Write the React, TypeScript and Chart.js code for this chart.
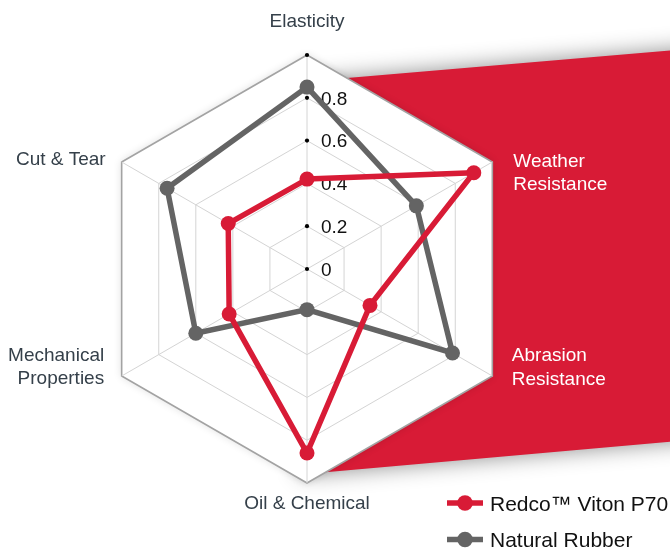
import React, { useEffect, useRef } from 'react';
import { Chart, registerables } from 'chart.js';

Chart.register(...registerables);

// ---- data ----
const categories = ['Elasticity', 'Weather Resistance', 'Abrasion Resistance', 'Oil & Chemical', 'Mechanical Properties', 'Cut & Tear'];
const categoryLines = [['Elasticity'], ['Weather', 'Resistance'], ['Abrasion', 'Resistance'], ['Oil & Chemical'], ['Mechanical', 'Properties'], ['Cut & Tear']];
const seriesNames = ['Redco™ Viton P70', 'Natural Rubber'];
const redcoValues = [0.42, 0.9, 0.34, 0.86, 0.42, 0.425];
const rubberValues = [0.85, 0.59, 0.785, 0.19, 0.6, 0.755];
const tickValues = [0, 0.2, 0.4, 0.6, 0.8, 1];
const tickLabels = ['0', '0.2', '0.4', '0.6', '0.8', ''];

const RED = '#d81b36';
const GRAY = '#646464';
const LABEL_DARK = '#35404a';
const FONT = '"Liberation Sans", Arial, Helvetica, sans-serif';

// label placement per axis: [dx, dy of first baseline, align, color]
const labelPlacement: [number, number, CanvasTextAlign, string][] = [
  [0, -28, 'center', LABEL_DARK],
  [21, 4.5, 'left', '#ffffff'],
  [19.5, -15, 'left', '#ffffff'],
  [0, 26, 'center', LABEL_DARK],
  [-17.5, -15.5, 'right', LABEL_DARK],
  [-16, 3, 'right', LABEL_DARK],
];

const decorPlugin = {
  id: 'decor',
  beforeDraw(chart: any) {
    const s = chart.scales.r;
    const ctx: CanvasRenderingContext2D = chart.ctx;
    const cx = s.xCenter, cy = s.yCenter, R = s.drawingArea;
    // red band behind the web
    ctx.save();
    ctx.shadowColor = 'rgba(0,0,0,0.45)';
    ctx.shadowBlur = 22;
    ctx.fillStyle = RED;
    ctx.beginPath();
    ctx.moveTo(cx - 7, cy - 187);
    ctx.lineTo(cx + 393, cy - 221);
    ctx.lineTo(cx + 393, cy + 170);
    ctx.lineTo(cx - 7, cy + 205.5);
    ctx.closePath();
    ctx.fill();
    ctx.restore();
    // white hexagon
    ctx.save();
    ctx.shadowColor = 'rgba(0,0,0,0.14)';
    ctx.shadowBlur = 8;
    ctx.fillStyle = '#ffffff';
    ctx.beginPath();
    for (let i = 0; i < categories.length; i++) {
      const p = s.getPointPosition(i, R);
      if (i === 0) ctx.moveTo(p.x, p.y); else ctx.lineTo(p.x, p.y);
    }
    ctx.closePath();
    ctx.fill();
    ctx.restore();
  },
  beforeDatasetsDraw(chart: any) {
    const s = chart.scales.r;
    const ctx: CanvasRenderingContext2D = chart.ctx;
    const cx = s.xCenter, cy = s.yCenter;
    ctx.save();
    ctx.font = `19px ${FONT}`;
    ctx.textAlign = 'left';
    ctx.textBaseline = 'alphabetic';
    tickValues.forEach((v, i) => {
      const y = cy - s.getDistanceFromCenterForValue(v);
      ctx.fillStyle = '#000';
      ctx.beginPath();
      ctx.arc(cx, y, 2.1, 0, Math.PI * 2);
      ctx.fill();
      if (tickLabels[i]) {
        ctx.fillStyle = '#111';
        ctx.fillText(tickLabels[i], cx + 14, y + 6.8);
      }
    });
    ctx.restore();
  },
  afterDraw(chart: any) {
    const s = chart.scales.r;
    const ctx: CanvasRenderingContext2D = chart.ctx;
    const R = s.drawingArea;
    ctx.save();
    ctx.font = `19px ${FONT}`;
    ctx.textBaseline = 'alphabetic';
    categoryLines.forEach((lines, i) => {
      const p = s.getPointPosition(i, R);
      const [dx, dy, align, color] = labelPlacement[i];
      ctx.textAlign = align;
      ctx.fillStyle = color;
      lines.forEach((ln, j) => ctx.fillText(ln, p.x + dx, p.y + dy + j * 23.5));
    });
    // legend
    const colors = [RED, GRAY];
    ctx.font = `21px ${FONT}`;
    ctx.textAlign = 'left';
    seriesNames.forEach((name, i) => {
      const y = 503 + i * 36.5;
      ctx.strokeStyle = colors[i];
      ctx.lineWidth = 5.5;
      ctx.beginPath();
      ctx.moveTo(447, y);
      ctx.lineTo(483, y);
      ctx.stroke();
      ctx.fillStyle = colors[i];
      ctx.beginPath();
      ctx.arc(465, y, 7.8, 0, Math.PI * 2);
      ctx.fill();
      ctx.fillStyle = '#111';
      ctx.fillText(name, 490, y + 7.5);
    });
    ctx.restore();
  },
};

export default function App() {
  const ref = useRef<HTMLCanvasElement | null>(null);
  useEffect(() => {
    if (!ref.current) return;
    const chart = new Chart(ref.current, {
      type: 'radar',
      data: {
        labels: categories,
        datasets: [
          {
            label: seriesNames[0],
            data: redcoValues,
            borderColor: RED,
            backgroundColor: RED,
            pointBackgroundColor: RED,
            pointBorderColor: RED,
            borderWidth: 5.5,
            pointRadius: 7.5,
            pointBorderWidth: 0,
            fill: false,
          },
          {
            label: seriesNames[1],
            data: rubberValues,
            borderColor: GRAY,
            backgroundColor: GRAY,
            pointBackgroundColor: GRAY,
            pointBorderColor: GRAY,
            borderWidth: 5.5,
            pointRadius: 7.5,
            pointBorderWidth: 0,
            fill: false,
          },
        ],
      },
      options: {
        responsive: false,
        animation: false,
        layout: { padding: { left: 93, top: 55, right: 149, bottom: 65 } },
        plugins: { legend: { display: false }, tooltip: { enabled: false } },
        elements: { line: { tension: 0 } },
        scales: {
          r: {
            min: 0,
            max: 1,
            ticks: { display: false, stepSize: 0.2 },
            pointLabels: { display: false },
            grid: {
              color: (c: any) => (c.index === 5 ? '#a3a3a3' : '#d4d4d4'),
              lineWidth: (c: any) => (c.index === 5 ? 1.6 : 1),
            },
            angleLines: { color: '#d4d4d4', lineWidth: 1 },
          },
        },
      },
      plugins: [decorPlugin],
    });
    return () => chart.destroy();
  }, []);
  return (
    <div style={{ position: 'fixed', left: 0, top: 0, width: 670, height: 548, background: '#fff' }}>
      <canvas ref={ref} width={670} height={548} />
    </div>
  );
}
